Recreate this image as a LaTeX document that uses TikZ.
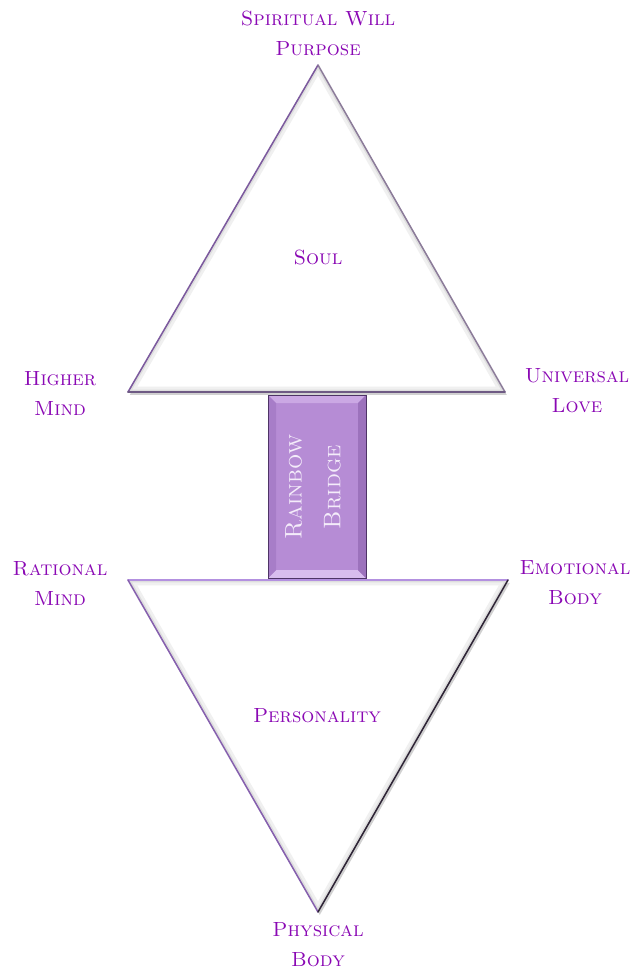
\documentclass[tikz,border=0pt]{standalone}
\usetikzlibrary{shadows}
\definecolor{labelpurple}{HTML}{8A08B4}
\definecolor{upleft}{HTML}{7C5A9E}
\definecolor{upbase}{HTML}{6E5A84}
\definecolor{upright}{HTML}{8C7C9A}
\definecolor{lowtop}{HTML}{B390E0}
\definecolor{lowleft}{HTML}{8660AE}
\definecolor{lowright}{HTML}{2E2436}
\definecolor{bridgeface}{HTML}{B68CD5}
\definecolor{bridgetop}{HTML}{CBA8E4}
\definecolor{bridgebot}{HTML}{D8BDEE}
\definecolor{bridgeleft}{HTML}{A77DC8}
\definecolor{bridgeright}{HTML}{9C72BC}
\definecolor{bridgeline}{HTML}{4E3466}
\definecolor{bridgetext}{HTML}{F4ECFA}

\begin{document}
\begin{tikzpicture}[x=0.03cm,y=-0.03cm,
	lbl/.style={text=labelpurple, font=\fontsize{17.5}{25.6}\selectfont\scshape, align=center, inner sep=0pt},
	tri/.style={fill=white, drop shadow={shadow xshift=1.5pt, shadow yshift=-2.5pt, opacity=0.3, fill=black!60}},
	edge/.style={line width=1.3pt, line cap=round}]
	\useasboundingbox (0,0) rectangle (632,974);
	% corners of the two triangles
	\coordinate (S) at (318, 65);
	\coordinate (HM) at (128, 392);
	\coordinate (UL) at (505, 392);
	\coordinate (RM) at (128, 580);
	\coordinate (EB) at (508, 580);
	\coordinate (PB) at (318, 912);
	\fill[tri] (S) -- (UL) -- (HM) -- cycle;
	\fill[tri] (RM) -- (EB) -- (PB) -- cycle;
	% soft inner bevel
	\begin{scope}
		\clip (S) -- (UL) -- (HM) -- cycle;
		\draw[line width=9pt, black!6] (S) -- (UL) -- (HM) -- cycle;
		\draw[line width=4pt, black!13] (S) -- (UL) -- (HM) -- cycle;
	\end{scope}
	\begin{scope}
		\clip (RM) -- (EB) -- (PB) -- cycle;
		\draw[line width=9pt, black!6] (RM) -- (EB) -- (PB) -- cycle;
		\draw[line width=4pt, black!13] (RM) -- (EB) -- (PB) -- cycle;
	\end{scope}
	\draw[edge, upleft] (HM) -- (S);
	\draw[edge, upright] (S) -- (UL);
	\draw[edge, upbase] (HM) -- (UL);
	\draw[edge, lowtop] (RM) -- (EB);
	\draw[edge, lowleft] (RM) -- (PB);
	\draw[edge, lowright] (EB) -- (PB);
	% the bridge between them
	\coordinate (b1) at (268, 395);
	\coordinate (b2) at (366, 578);
	\coordinate (c1) at (276, 403);
	\coordinate (c2) at (358, 570);
	\fill[bridgeface] (b1) rectangle (b2);
	\fill[bridgetop] (b1) -- (b1 -| b2) -- (c1 -| c2) -- (c1) -- cycle;
	\fill[bridgebot] (b1 |- b2) -- (b2) -- (c2) -- (c1 |- c2) -- cycle;
	\fill[bridgeleft] (b1) -- (c1) -- (c1 |- c2) -- (b1 |- b2) -- cycle;
	\fill[bridgeright] (b1 -| b2) -- (c1 -| c2) -- (c2) -- (b2) -- cycle;
	\draw[bridgeline, line width=0.8pt] (b1) rectangle (b2);
	\node (bridge) [lbl, text=bridgetext, rotate=90, font=\fontsize{20.5}{33}\selectfont\scshape] at (313, 487) {Rainbow\\Bridge};
	% labels
	\node (will) [lbl] at (318, 33) {Spiritual Will\\Purpose};
	\node (soul) [lbl] at (318, 257) {Soul};
	\node (higher) [lbl] at (60, 393) {Higher\\Mind};
	\node (love) [lbl] at (577, 391) {Universal\\Love};
	\node (rational) [lbl] at (60, 583) {Rational\\Mind};
	\node (emotional) [lbl] at (575, 583) {Emotional\\Body};
	\node (personality) [lbl] at (317, 716) {Personality};
	\node (physical) [lbl] at (318, 945) {Physical\\Body};
\end{tikzpicture}
\end{document}
